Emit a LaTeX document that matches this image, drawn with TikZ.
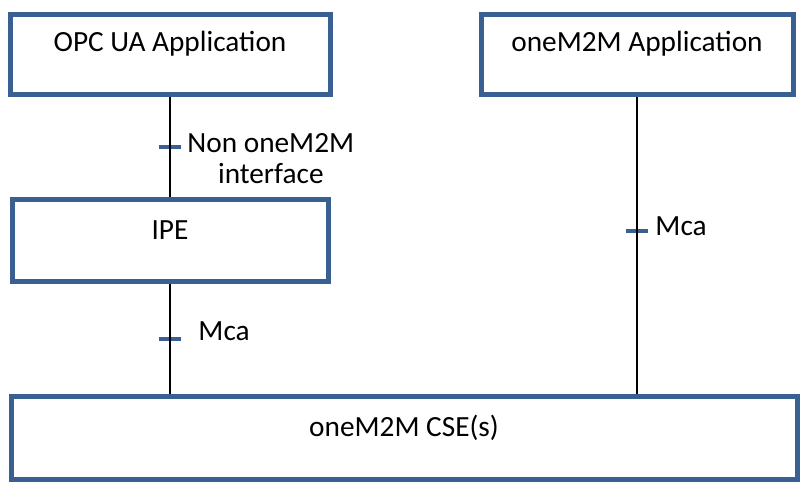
\documentclass[tikz,border=0pt]{standalone}
\usepackage{fontspec}
\setmainfont{Carlito}
\usetikzlibrary{positioning}
\definecolor{ifblue}{HTML}{3A5F91}
\begin{document}
\begin{tikzpicture}[x=1pt,y=-1pt,
  block/.style={draw=ifblue, line width=5pt, fill=white, inner sep=0pt, text height=37pt, text depth=43pt, font=\fontsize{29.3}{31}\selectfont},
  tickbar/.style={fill=ifblue, inner sep=0pt, minimum width=22pt, minimum height=4pt, behind path},
  ifline/.style={line width=2.5pt},
  iflabel/.style={inner sep=0pt, align=center, font=\fontsize{29.3}{31}\selectfont}]
\useasboundingbox (0,0) rectangle (800,486);
% boxes
\node[block, minimum width=320pt, anchor=base] (opc) at (170,52) {OPC UA Application};
\node[block, minimum width=312pt, anchor=base] (app) at (637,52) {oneM2M Application};
\node[block, minimum width=316pt, text height=40pt, text depth=41pt, anchor=base] (ipe) at (170,240) {IPE};
\node[block, minimum width=786pt, text height=39.5pt, anchor=base] (cse) at (404,436) {oneM2M CSE(s)};
% interfaces
\draw[ifline] (opc.south) -- node[tickbar] (t1) {} (ipe.north);
\draw[ifline] (ipe.south) -- node[tickbar] (t2) {} (ipe.south |- cse.north);
\draw[ifline] (app.south) -- node[tickbar, pos=0.45] (t3) {} (app.south |- cse.north);
% labels
\node[iflabel, anchor=base west] (l1) at ([xshift=5pt, yshift=-35.7pt]t1.east) {Non oneM2M\\interface};
\node[iflabel, anchor=base west] (l2) at ([xshift=16pt, yshift=-1.7pt]t2.east) {Mca};
\node[iflabel, anchor=base west] (l3) at ([xshift=6pt, yshift=-5pt]t3.east) {Mca};
\end{tikzpicture}
\end{document}
